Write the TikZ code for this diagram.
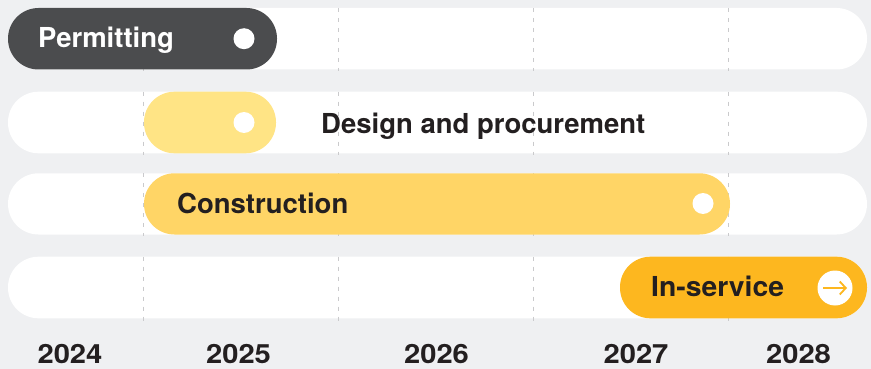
\documentclass[tikz,border=0pt]{standalone}
\usepackage{fontspec}
\setmainfont{TeX Gyre Heros}
\usetikzlibrary{arrows.meta}
\definecolor{bgc}{HTML}{EFF0F2}
\definecolor{darkbar}{HTML}{4B4C4E}
\definecolor{paleyel}{HTML}{FFE485}
\definecolor{midyel}{HTML}{FFD566}
\definecolor{orangebar}{HTML}{FDB71F}
\definecolor{ink}{HTML}{231F20}
\definecolor{dashc}{HTML}{CACACC}
\tikzset{
  rowpill/.style={fill=white, rounded corners=30.5pt},
  barpill/.style={rounded corners=30.5pt},
  gridline/.style={draw=dashc, line width=1.6pt, dash pattern=on 4pt off 6pt},
  lbl/.style={font=\fontsize{27.5}{30}\selectfont\bfseries, text=ink, inner sep=0pt, anchor=base west},
  yearlbl/.style={font=\fontsize{26.5}{30}\selectfont\bfseries, text=ink, inner sep=0pt, anchor=base},
  dot/.style={circle, fill=white, minimum size=21pt, inner sep=0pt},
}
\newcommand{\yr}[1]{\scalebox{1.1}[1]{#1}}
\begin{document}
\begin{tikzpicture}[x=1pt, y=-1pt]
\fill[bgc] (0,0) rectangle (871,369);
\useasboundingbox (0,0) rectangle (871,369);
% rows
\fill[rowpill] (8,8) rectangle (867,69.5);
\fill[rowpill] (8,91.7) rectangle (867,153.3);
\fill[rowpill] (8,173.3) rectangle (867,234.5);
\fill[rowpill] (8,256.7) rectangle (867,318.3);
% grid lines
\foreach \gx in {143.5,338.5,533.5,728.5}{
  \foreach \ya/\yb in {8/71, 91.7/155, 173.3/236, 256.7/322}{
    \draw[gridline] (\gx,\ya) -- (\gx,\yb);
  }
}
% bars
\fill[barpill, darkbar] (8,8) rectangle (277,69.5);
\fill[barpill, paleyel] (144,91.7) rectangle (276,153.3);
\fill[barpill, midyel] (144,173.3) rectangle (730,234.5);
\fill[barpill, orangebar] (620,256.7) rectangle (867,318.3);
% labels
\node[lbl, text=white] (perm) at (38,47.5) {Permitting};
\node[dot] (permdot) at (244,38.7) {};
\node[dot] (desdot) at (244,122.5) {};
\node[lbl] (des) at (321,133.5) {Design and procurement};
\node[lbl] (cons) at (177,213) {Construction};
\node[dot] (consdot) at (703,203.5) {};
\node[lbl] (ins) at (651,296) {\scalebox{1.03}[1]{In-service}};
\node[circle, fill=white, minimum size=35pt, inner sep=0pt] (insdot) at (835,288) {};
\draw[orangebar, line width=1.8pt, -{Straight Barb[length=6pt,width=13pt,line width=1.8pt]}] ([xshift=-12pt]insdot.center) -- ([xshift=12pt]insdot.center);
% years
\node[yearlbl] (y24) at (70,363) {\yr{2024}};
\node[yearlbl] (y25) at (238.5,363) {\yr{2025}};
\node[yearlbl] (y26) at (436.5,363) {\yr{2026}};
\node[yearlbl] (y27) at (636,363) {\yr{2027}};
\node[yearlbl] (y28) at (798.5,363) {\yr{2028}};
\end{tikzpicture}
\end{document}
